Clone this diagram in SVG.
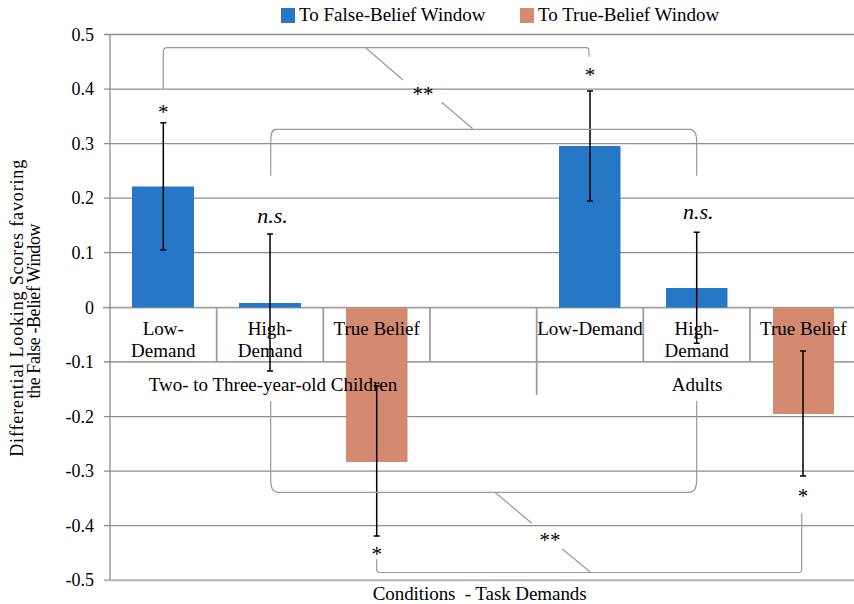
<svg xmlns="http://www.w3.org/2000/svg" width="854" height="604" viewBox="0 0 854 604" font-family="'Liberation Serif', 'Times New Roman', serif">
<style>
  text { font-family: "Liberation Serif", "Times New Roman", serif; fill: #000; }
  .tick { font-size: 18px; text-anchor: end; }
  .lab { font-size: 19px; text-anchor: middle; }
  .sig { font-size: 21px; text-anchor: middle; }
  .ns { font-size: 22px; font-style: italic; text-anchor: middle; }
  .grid { stroke: #8e8e8e; stroke-width: 1.3; fill: none; }
  .cat { stroke: #a0a0a0; stroke-width: 1.8; fill: none; }
  .blue { fill: #2678C6; }
  .salmon { fill: #D38A70; }
  .err { stroke: #000; stroke-width: 1.5; fill: none; }
  .br { stroke: #9a9a9a; stroke-width: 1.2; fill: none; }
</style>
<rect x="0" y="0" width="854" height="604" fill="#ffffff"/>

<g id="legend">
  <rect class="blue" x="281" y="8" width="14" height="15"/>
  <text x="299" y="21" font-size="19">To False-Belief Window</text>
  <rect class="salmon" x="520" y="8" width="14" height="15"/>
  <text x="538" y="21" font-size="19">To True-Belief Window</text>
</g>

<g id="gridlines">
  <line class="grid" x1="104" y1="34.5" x2="854" y2="34.5"/>
  <line class="grid" x1="104" y1="89.1" x2="854" y2="89.1"/>
  <line class="grid" x1="104" y1="143.6" x2="854" y2="143.6"/>
  <line class="grid" x1="104" y1="198.2" x2="854" y2="198.2"/>
  <line class="grid" x1="104" y1="252.7" x2="854" y2="252.7"/>
  <line class="grid" x1="104" y1="416.6" x2="854" y2="416.6"/>
  <line class="grid" x1="104" y1="471.1" x2="854" y2="471.1"/>
  <line class="grid" x1="104" y1="525.6" x2="854" y2="525.6"/>
  <line x1="104" y1="580.2" x2="854" y2="580.2" stroke="#b4b4b4" stroke-width="2"/>
  <line class="cat" x1="104" y1="361.8" x2="854" y2="361.8"/>
  <line class="cat" x1="103" y1="307.6" x2="854" y2="307.6"/>
  <line class="grid" x1="110" y1="34.5" x2="110" y2="580.2"/>
</g>

<g id="yaxis-labels">
  <text class="tick" x="94" y="40.5">0.5</text>
  <text class="tick" x="94" y="95">0.4</text>
  <text class="tick" x="94" y="149.5">0.3</text>
  <text class="tick" x="94" y="204">0.2</text>
  <text class="tick" x="94" y="258.5">0.1</text>
  <text class="tick" x="94" y="313.5">0</text>
  <text class="tick" x="94" y="368">-0.1</text>
  <text class="tick" x="94" y="422.5">-0.2</text>
  <text class="tick" x="94" y="477">-0.3</text>
  <text class="tick" x="94" y="531.5">-0.4</text>
  <text class="tick" x="94" y="586">-0.5</text>
</g>

<g id="yaxis-title">
  <text transform="translate(23,308.3) rotate(-90)" font-size="18" text-anchor="middle" textLength="297" lengthAdjust="spacing">Differential Looking Scores favoring</text>
  <text transform="translate(39.5,311) rotate(-90)" font-size="18" text-anchor="middle" textLength="175" lengthAdjust="spacing">the False -Belief Window</text>
</g>

<g id="bar-children-low"><rect class="blue" x="132" y="186.5" width="62" height="121"/></g>
<g id="bar-children-high"><rect class="blue" x="239" y="303" width="62" height="4.6"/></g>
<g id="bar-children-true"><rect class="salmon" x="346" y="307.6" width="61.5" height="154.4"/></g>
<g id="bar-adults-low"><rect class="blue" x="559" y="146" width="61.5" height="161.6"/></g>
<g id="bar-adults-high"><rect class="blue" x="666" y="288" width="61.5" height="19.6"/></g>
<g id="bar-adults-true"><rect class="salmon" x="773" y="307.6" width="61" height="106.4"/></g>

<g id="category-table">
  <line class="cat" x1="216.7" y1="307.6" x2="216.7" y2="361.8"/>
  <line class="cat" x1="323.3" y1="307.6" x2="323.3" y2="361.8"/>
  <line class="cat" x1="430" y1="307.6" x2="430" y2="361.8"/>
  <line class="cat" x1="536.7" y1="307.6" x2="536.7" y2="395"/>
  <line class="cat" x1="643.3" y1="307.6" x2="643.3" y2="361.8"/>
  <line class="cat" x1="750" y1="307.6" x2="750" y2="361.8"/>
</g>

<g id="category-labels">
  <text class="lab" x="163.3" y="335">Low-</text>
  <text class="lab" x="163.3" y="357.3">Demand</text>
  <text class="lab" x="270" y="335">High-</text>
  <text class="lab" x="270" y="357.3">Demand</text>
  <text class="lab" x="376.7" y="335">True Belief</text>
  <text class="lab" x="590" y="335">Low-Demand</text>
  <text class="lab" x="696.7" y="335">High-</text>
  <text class="lab" x="696.7" y="357.3">Demand</text>
  <text class="lab" x="803.3" y="335">True Belief</text>
  <text class="lab" x="273" y="390.7">Two- to Three-year-old Children</text>
  <text class="lab" x="697" y="390.7">Adults</text>
</g>

<g id="error-bars">
  <path class="err" d="M163.3,122.7V250M160.3,122.7H166.3M160.3,250H166.3"/>
  <path class="err" d="M270,234V371M267,234H273M267,371H273"/>
  <path class="err" d="M376.7,386V536M373.7,386H379.7M373.7,536H379.7"/>
  <path class="err" d="M590,91V201M587,91H593M587,201H593"/>
  <path class="err" d="M696.7,232.3V343.3M693.7,232.3H699.7M693.7,343.3H699.7"/>
  <path class="err" d="M803,351V476M800,351H806M800,476H806"/>
</g>

<g id="connectors">
  <path class="br" d="M163.3,89V52C163.3,49 164.5,47.7 167,47.7H586C588,47.7 589,49 589,51V56.7"/>
  <path class="br" d="M365.7,47.7L403,80"/>
  <path class="br" d="M441.7,102.3L472.7,128.8"/>
  <path class="br" d="M270.7,175.7V142C270.7,133 272,129.3 276,129.3H690C694,129.3 696.7,133 696.7,142V175.7"/>
  <path class="br" d="M270.7,401V480C270.7,489 273,492.3 278,492.3H689C694,492.3 696.7,489 696.7,480V401"/>
  <path class="br" d="M495,492.3L531.7,523.3"/>
  <path class="br" d="M562.3,549L590.7,572.5"/>
  <path class="br" d="M376.7,559.3V569.5C376.7,571.5 377.7,572.5 380,572.5H798.5C800.7,572.5 801.7,571.5 801.7,569V513.3"/>
</g>

<g id="significance">
  <text class="sig" x="163.3" y="118.5">*</text>
  <text class="sig" x="590" y="81.5">*</text>
  <text class="sig" x="376.7" y="561">*</text>
  <text class="sig" x="803" y="502.5">*</text>
  <text class="sig" x="423" y="101">**</text>
  <text class="sig" x="550" y="546.5">**</text>
  <text class="ns" x="272.5" y="222.7">n.s.</text>
  <text class="ns" x="698.3" y="219.3">n.s.</text>
</g>

<g id="xaxis-title">
  <text x="479.7" y="599.5" font-size="19" text-anchor="middle" textLength="214" lengthAdjust="spacing" xml:space="preserve">Conditions  - Task Demands</text>
</g>
</svg>
